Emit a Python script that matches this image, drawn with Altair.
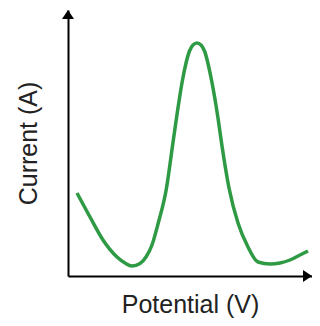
import altair as alt
import pandas as pd

# Curve (x: potential units, y: current units)
potential = [9, 22, 35, 49, 57, 64, 72, 78, 84, 90, 98.5, 104.5, 108.5, 114.5, 121.5, 125,
             129, 133, 136.5, 143.5, 150, 154, 161, 170, 180, 190, 202, 212, 222, 232, 240]
current = [83, 59, 36, 19, 13, 10, 12.5, 19, 31, 52, 88, 130, 158, 196, 225, 231,
           233, 231, 225, 196, 158, 130, 88, 53, 29, 14, 12, 13, 16, 21, 25]

# axis extents (arrow heads sit at the ends of the axes)
x_max = 244
y_max = 266

curve = pd.DataFrame({"Potential": potential, "Current": current})
arrows = pd.DataFrame({
    "x": [0, x_max - 4.5],
    "y": [y_max - 4.5, 0],
    "shape": ["M0,-0.75L-1,0.75L1,0.75Z", "M0.75,0L-0.75,-1L-0.75,1Z"],
})

xs = alt.Scale(domain=[0, x_max], nice=False, zero=False)
ys = alt.Scale(domain=[0, y_max], nice=False, zero=False)

line = alt.Chart(curve).mark_line(
    color="#2e9a44", strokeWidth=3.5, interpolate="monotone"
).encode(
    x=alt.X("Potential:Q", scale=xs,
            axis=alt.Axis(title="Potential (V)", labels=False, ticks=False, grid=False,
                          domainColor="#000000", domainWidth=2,
                          titleFont="Liberation Sans", titleFontSize=25,
                          titleFontWeight="normal", titleColor="#222222",
                          titlePadding=16)),
    y=alt.Y("Current:Q", scale=ys,
            axis=alt.Axis(title="Current (A)", labels=False, ticks=False, grid=False,
                          domainColor="#000000", domainWidth=2,
                          titleFont="Liberation Sans", titleFontSize=25,
                          titleFontWeight="normal", titleColor="#222222",
                          titlePadding=27)),
)

heads = alt.Chart(arrows).mark_point(filled=True, color="#000000", opacity=1, size=144).encode(
    x=alt.X("x:Q", scale=xs),
    y=alt.Y("y:Q", scale=ys),
    shape=alt.Shape("shape:N", scale=None),
)

chart = alt.layer(line, heads).properties(
    width=x_max, height=y_max,
    autosize=alt.AutoSizeParams(type="none"),
    padding={"left": 60, "top": 2, "right": 0, "bottom": 42},
).configure_view(stroke=None)

chart.save("out.html", embed_options={"renderer": "svg", "actions": False})
